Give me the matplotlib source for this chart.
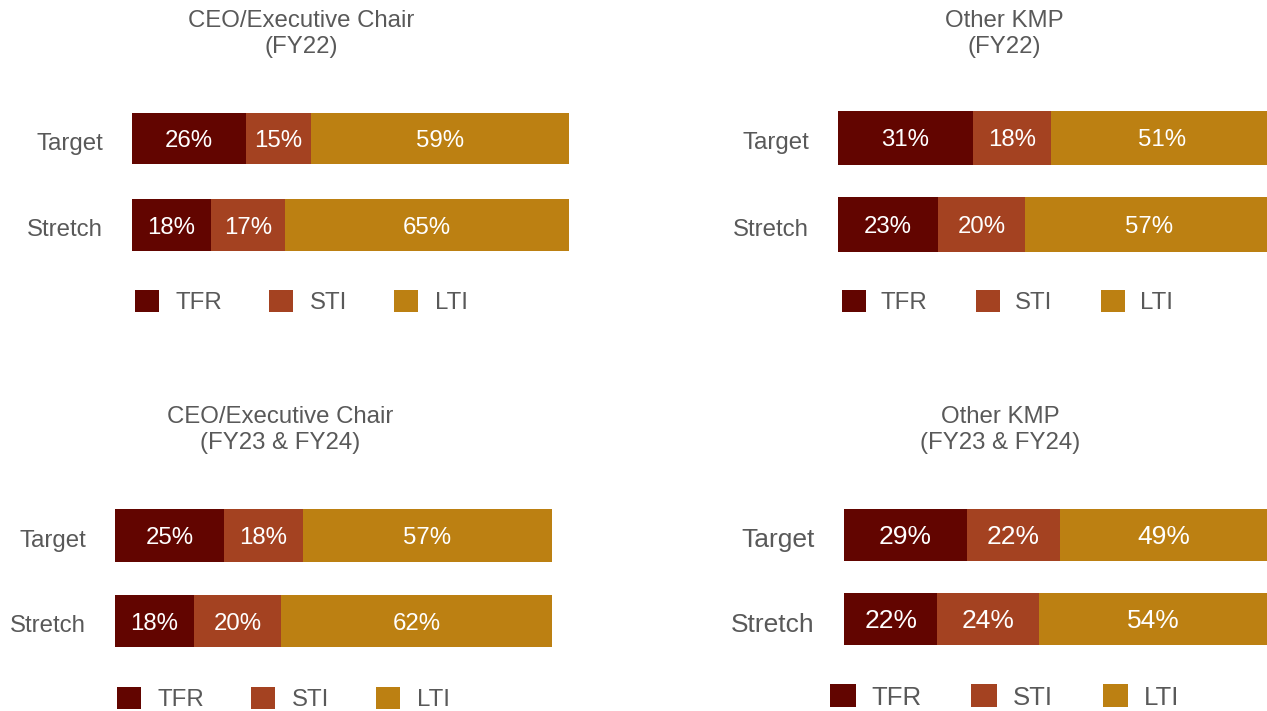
import matplotlib.pyplot as plt
import matplotlib.transforms as mtransforms
from matplotlib.patches import Patch

plt.rcParams['font.family'] = ['Liberation Sans', 'DejaVu Sans']

rows = ['Target', 'Stretch']
components = ['TFR', 'STI', 'LTI']
colors = ['#620500', '#A44221', '#BC8012']
grey = '#595959'

titles = ['CEO/Executive Chair\n(FY22)', 'Other KMP\n(FY22)',
          'CEO/Executive Chair\n(FY23 & FY24)', 'Other KMP\n(FY23 & FY24)']

# percent of pay mix, rows = Target, Stretch
ceo_fy22_tfr = [26, 18]
ceo_fy22_sti = [15, 17]
ceo_fy22_lti = [59, 65]

kmp_fy22_tfr = [31, 23]
kmp_fy22_sti = [18, 20]
kmp_fy22_lti = [51, 57]

ceo_fy23_tfr = [25, 18]
ceo_fy23_sti = [18, 20]
ceo_fy23_lti = [57, 62]

kmp_fy23_tfr = [29, 22]
kmp_fy23_sti = [22, 24]
kmp_fy23_lti = [49, 54]

panels = [
    (ceo_fy22_tfr, ceo_fy22_sti, ceo_fy22_lti),
    (kmp_fy22_tfr, kmp_fy22_sti, kmp_fy22_lti),
    (ceo_fy23_tfr, ceo_fy23_sti, ceo_fy23_lti),
    (kmp_fy23_tfr, kmp_fy23_sti, kmp_fy23_lti),
]

W, H = 1267, 711
fig = plt.figure(figsize=(W / 100, H / 100), dpi=100)

# layout in pixels: bar left, bar width (100%), target centre y, row spacing,
# bar height, font size, title centre (x, y), legend (x, y), legend spacing
layout = [
    dict(left=132, width=437, yc=138.5, sp=86.5, bh=0.60, fs=17.3,
         title=(301, 34), leg=(135, 302), tpad=0.68, cs=1.97),
    dict(left=838, width=435, yc=138, sp=86.5, bh=0.63, fs=17.3,
         title=(1004, 34), leg=(842, 302), tpad=0.6, cs=2.05),
    dict(left=115, width=437, yc=535.5, sp=85.5, bh=0.61, fs=17.3,
         title=(280, 430), leg=(117, 699), tpad=0.68, cs=1.97),
    dict(left=844, width=424, yc=535, sp=84, bh=0.62, fs=19,
         title=(1000, 430), leg=(830, 697), tpad=0.6, cs=1.95),
]

shift_down = mtransforms.ScaledTranslation(0, -0.03, fig.dpi_scale_trans)

for (tfr, sti, lti), lay, title in zip(panels, layout, titles):
    top = lay['yc'] - 0.5 * lay['sp']
    h = 2 * lay['sp']
    ax = fig.add_axes([lay['left'] / W, (H - top - h) / H, lay['width'] / W, h / H])

    left = [0, 0]
    for vals, c in zip((tfr, sti, lti), colors):
        bars = ax.barh(rows, vals, left=left, height=lay['bh'], color=c)
        texts = ax.bar_label(bars, labels=['%d%%' % v for v in vals], label_type='center',
                             color='white', fontsize=lay['fs'])
        for t in texts:
            t.set_va('center_baseline')
        left = [a + b for a, b in zip(left, vals)]

    ax.set_xlim(0, 100)
    ax.set_ylim(1.5, -0.5)
    ax.xaxis.set_visible(False)
    ax.tick_params(axis='y', length=0, pad=21, labelsize=lay['fs'], labelcolor=grey)
    for lbl in ax.get_yticklabels():
        lbl.set_transform(lbl.get_transform() + shift_down)
    for s in ax.spines.values():
        s.set_visible(False)
    ax.patch.set_alpha(0)

    fig.text(lay['title'][0] / W, 1 - lay['title'][1] / H, title, ha='center', va='center',
             fontsize=17.3, color=grey, linespacing=1.2)

    handles = [Patch(facecolor=c, edgecolor='none') for c in colors]
    leg_fs = 17.3 if lay['fs'] < 18 else 18.5
    fig.legend(handles, components, loc='center left', ncol=3, frameon=False,
               bbox_to_anchor=(lay['leg'][0] / W, 1 - lay['leg'][1] / H),
               bbox_transform=fig.transFigure, borderpad=0, borderaxespad=0,
               handlelength=1.0, handleheight=1.0, handletextpad=lay['tpad'],
               columnspacing=lay['cs'], fontsize=leg_fs, labelcolor=grey)

fig.savefig('out.png', dpi=100, facecolor='white')
